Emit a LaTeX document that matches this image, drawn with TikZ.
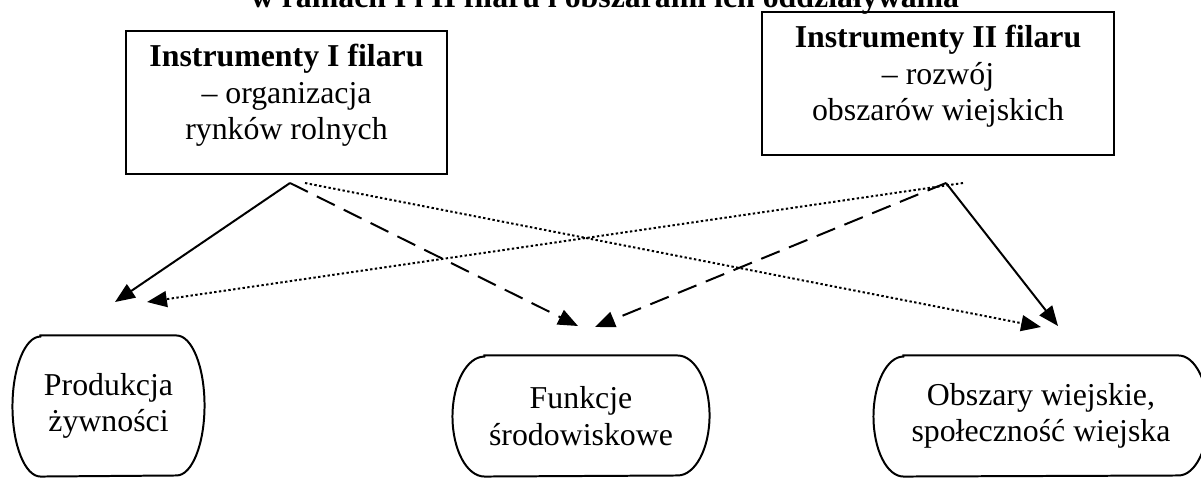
\documentclass[tikz,border=0pt]{standalone}
\usepackage{fontspec}
\setmainfont{Liberation Serif}
\usetikzlibrary{arrows.meta,calc}
\newcommand{\pxu}{0.377pt}
% outline with rounded (elliptic) ends round a node
\newcommand{\pillout}[3]{%
  \draw[line width=0.75pt] ($(#1.north west)+(#2,0)$) -- ($(#1.north east)+(-#2,0)$)
    arc[start angle=90, end angle=-90, x radius=#2, y radius=#3]
    -- ($(#1.south west)+(#2,0)$)
    arc[start angle=270, end angle=90, x radius=#2, y radius=#3] -- cycle;}
% extra depth under the last line of a box
\newcommand{\dolstrut}{\rule[-7.9pt]{0pt}{7.9pt}}
\tikzset{
  filar/.style={draw, line width=0.75pt, align=center, inner sep=0pt},
  skutek/.style={align=center, inner sep=0pt},
  wplyw/.style={line width=0.75pt, -{Triangle[length=7.5pt,width=6pt]}},
  kreski/.style={dash pattern=on 7.5pt off 3.8pt},
  kropki/.style={dash pattern=on 0.9pt off 0.9pt},
}
\begin{document}
\begin{tikzpicture}[x=\pxu, y=\pxu, font=\fontsize{12}{13.8}\selectfont]
    \useasboundingbox (0,0) rectangle (1201,477);
    \clip (0,0) rectangle (1201,477);
    \node[font=\fontsize{12}{13.8}\selectfont\bfseries, anchor=base] (tytul) at (605,470)
        {w ramach I i II filaru i obszarami ich oddziaływania};
    % filary
    \node[filar, minimum width=321*\pxu, minimum height=143*\pxu] (filar1) at (286.5,374.5)
        {\textbf{Instrumenty I filaru}\\– organizacja\\rynków rolnych\dolstrut};
    \node[filar, minimum width=352*\pxu, minimum height=143*\pxu] (filar2) at (938,393.5)
        {\textbf{Instrumenty II filaru}\\– rozwój\\obszarów wiejskich\dolstrut};
    % obszary oddzialywania
    \node[skutek, minimum width=191*\pxu, minimum height=140*\pxu] (produkcja) at (108.5,71)
        {Produkcja\\żywności};
    \node[skutek, minimum width=256*\pxu, minimum height=120*\pxu] (srodowisko) at (581,61)
        {Funkcje\\środowiskowe};
    \node[skutek, minimum width=334*\pxu, minimum height=120*\pxu] (obszary) at (1041,61)
        {Obszary wiejskie,\\społeczność wiejska};
    \pillout{produkcja}{28}{70}
    \pillout{srodowisko}{32}{60}
    \pillout{obszary}{30}{60}
    % poczatki i konce strzalek
    \coordinate (f1) at (290,294);
    \coordinate (f1k) at (305,294);
    \coordinate (f2) at (946,294);
    \coordinate (f2k) at (963,294);
    \coordinate (doprod1) at (115,175);
    \coordinate (doprod2) at (147,175);
    \coordinate (dosrod1) at (578,151);
    \coordinate (dosrod2) at (595,150);
    \coordinate (doobsz1) at (1041,150);
    \coordinate (doobsz2) at (1058,151);
    \draw[wplyw] (f1) -- (doprod1);
    \draw[wplyw, kreski] (f1) -- (dosrod1);
    \draw[wplyw, kropki] (f1k) -- (doobsz1);
    \draw[wplyw, kropki] (f2k) -- (doprod2);
    \draw[wplyw, kreski] (f2) -- (dosrod2);
    \draw[wplyw] (f2) -- (doobsz2);
\end{tikzpicture}
\end{document}
